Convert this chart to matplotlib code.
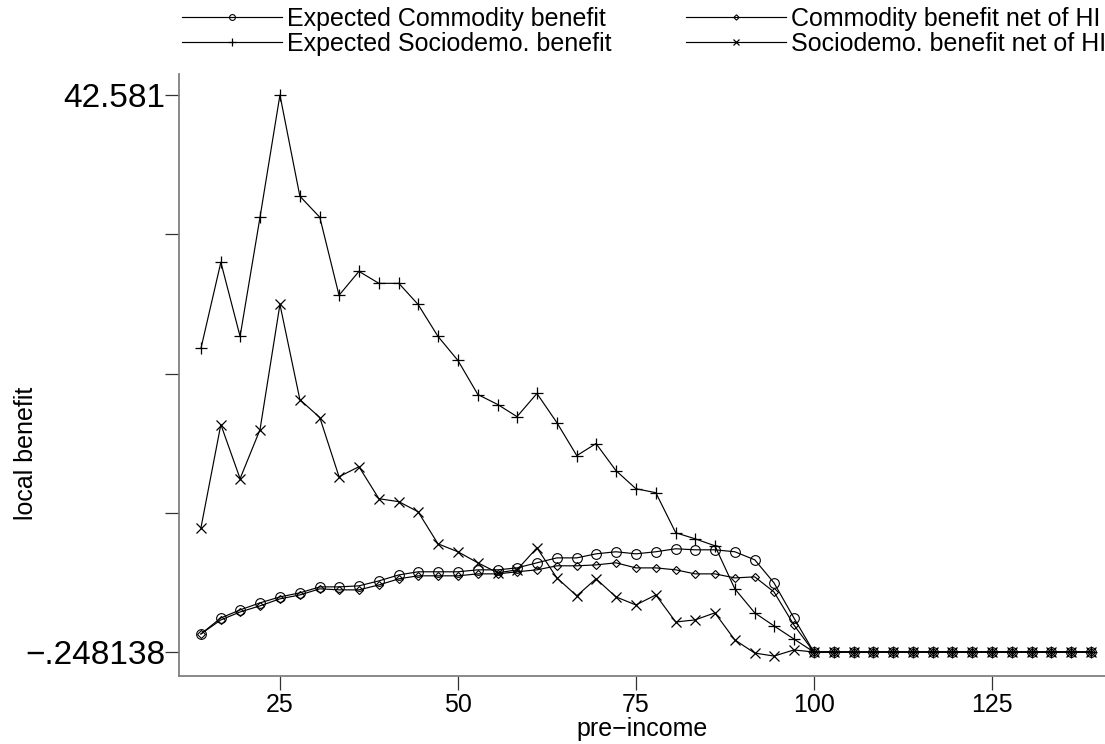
import matplotlib
matplotlib.use('Agg')
import matplotlib.pyplot as plt

plt.rcParams['font.family'] = ['Liberation Sans', 'DejaVu Sans']

# pre-income grid
x = [13.9, 16.7, 19.4, 22.2, 25.0, 27.8, 30.6, 33.3, 36.1, 38.9, 41.7, 44.4,
     47.2, 50.0, 52.8, 55.6, 58.3, 61.1, 63.9, 66.7, 69.4, 72.2, 75.0, 77.8,
     80.6, 83.3, 86.1, 88.9, 91.7, 94.4, 97.2, 100.0, 102.8, 105.6, 108.3,
     111.1, 113.9, 116.7, 119.4, 122.2, 125.0, 127.8, 130.6, 133.3, 136.1, 138.9]

flat = [-0.248138] * 15  # 100 .. 138.9

exp_commodity = [1.14, 2.37, 2.99, 3.53, 3.99, 4.30, 4.76, 4.76, 4.84, 5.22, 5.68,
                 5.92, 5.92, 5.92, 6.07, 6.07, 6.22, 6.61, 6.99, 6.99, 7.30, 7.46,
                 7.30, 7.46, 7.69, 7.61, 7.61, 7.46, 6.84, 5.07, 2.37] + flat
net_commodity = [1.14, 2.22, 2.83, 3.30, 3.84, 4.14, 4.61, 4.53, 4.53, 4.91, 5.38,
                 5.61, 5.61, 5.61, 5.76, 5.76, 5.92, 6.07, 6.38, 6.38, 6.45, 6.61,
                 6.22, 6.22, 6.07, 5.76, 5.76, 5.45, 5.53, 4.37, 1.83] + flat
exp_socio = [23.09, 29.72, 24.02, 33.18, 42.581, 34.80, 33.18, 27.18, 29.02, 28.10,
             28.10, 26.48, 24.02, 22.17, 19.55, 18.78, 17.85, 19.63, 17.39, 14.85,
             15.78, 13.70, 12.31, 12.00, 8.92, 8.46, 7.92, 4.61, 2.76, 1.76, 0.75] + flat
net_socio = [9.30, 17.24, 13.08, 16.85, 26.48, 19.16, 17.78, 13.23, 14.00, 11.54,
             11.31, 10.54, 8.07, 7.46, 6.61, 5.84, 6.07, 7.76, 5.45, 4.07, 5.38,
             3.99, 3.37, 4.14, 2.06, 2.22, 2.76, 0.68, -0.33, -0.56, -0.09] + flat

y_min = -0.248138
y_max = 42.581

fig = plt.figure(figsize=(11.05, 7.44), dpi=100)
ax = fig.add_axes([179 / 1105, 1 - 676 / 744, 1 - 179 / 1105, (676 - 74) / 744])

lw = 0.85
ax.plot(x, exp_commodity, color='black', lw=lw, marker='o', ms=7, mfc='none',
        mec='black', mew=0.8, label='Expected Commodity benefit')
ax.plot(x, net_commodity, color='black', lw=lw, marker='D', ms=4.5, mfc='none',
        mec='black', mew=0.8, label='Commodity benefit net of HI')
ax.plot(x, exp_socio, color='black', lw=lw, marker='+', ms=9, mew=0.9,
        label='Expected Sociodemo. benefit')
ax.plot(x, net_socio, color='black', lw=lw, marker='x', ms=7.5, mew=0.9,
        label='Sociodemo. benefit net of HI')

# axes look
step = (y_max - y_min) / 4
ax.set_yticks([y_min + i * step for i in range(5)])
ax.set_yticklabels(['\u2212.248138', '', '', '', '42.581'])
ax.set_xticks([25, 50, 75, 100, 125])
ax.set_xlim(10.82, 140.9)
ax.set_ylim(-2.093, 44.196)

for s in ['top', 'right']:
    ax.spines[s].set_visible(False)
for s in ['left', 'bottom']:
    ax.spines[s].set_color('#808080')
    ax.spines[s].set_linewidth(1.3)
ax.tick_params(axis='both', direction='out', length=10, width=0.9,
               color='#333333', labelsize=18, pad=2)
ax.tick_params(axis='y', labelsize=24, pad=0)

ax.set_ylabel('local benefit', fontsize=18)
ax.yaxis.set_label_coords(-0.152, 0.37)
ax.set_xlabel('pre\u2212income', fontsize=18, labelpad=0)

# legend on top, two columns
handles, labels = ax.get_legend_handles_labels()
order = [0, 2, 1, 3]
fig.legend([handles[i] for i in order], [labels[i] for i in order],
           loc='upper center', bbox_to_anchor=(0.583, 1.021), ncol=2,
           frameon=False, fontsize=18, handlelength=4.0, handletextpad=0.2,
           columnspacing=2.96, labelspacing=0.05, markerscale=0.6)

fig.savefig('out.png', dpi=100)
